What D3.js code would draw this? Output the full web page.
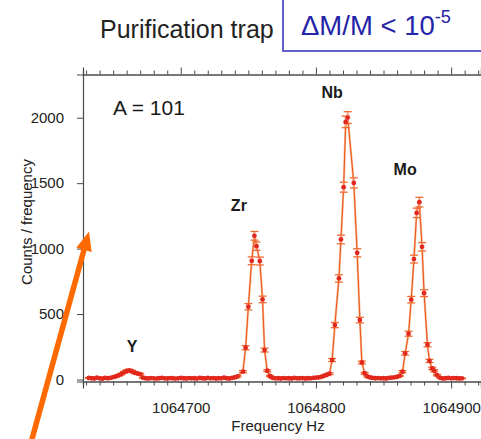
<!DOCTYPE html>
<html>
<head>
<meta charset="utf-8">
<script src="https://cdn.jsdelivr.net/npm/d3@7"></script>
<style>
  html, body { margin: 0; padding: 0; background: #fff; }
  svg { display: block; font-family: "Liberation Sans", Arial, sans-serif; }
</style>
</head>
<body>
<svg id="chart" width="481" height="439"></svg>
<script>
// Time-of-flight resonance scan, A = 101 isobars (Hz, counts per frequency step)
const freqs = [
  1064632, 1064634, 1064636, 1064638, 1064640, 1064642, 1064644, 1064646, 1064648,
  1064650, 1064652, 1064654, 1064656, 1064658, 1064660, 1064662, 1064664, 1064666, 1064668, 1064670, 1064672,
  1064674, 1064676, 1064678, 1064680, 1064682, 1064684, 1064686, 1064688, 1064690, 1064692,
  1064694, 1064696, 1064698, 1064700, 1064702, 1064704, 1064706, 1064708, 1064710, 1064712,
  1064714, 1064716, 1064718, 1064720, 1064722, 1064724, 1064726, 1064728, 1064730, 1064732,
  1064734, 1064736, 1064738, 1064740, 1064742,
  1064746, 1064748, 1064750, 1064752.5, 1064754.5, 1064756, 1064758.5, 1064760.5, 1064762, 1064764, 1064766,
  1064768, 1064770, 1064772, 1064774, 1064776, 1064778, 1064780, 1064782, 1064784, 1064786,
  1064788, 1064790, 1064792, 1064794, 1064796, 1064798, 1064800, 1064802, 1064804, 1064806,
  1064808, 1064810,
  1064812, 1064814, 1064817, 1064818.5, 1064820.5, 1064822, 1064823.5, 1064828, 1064830.5, 1064832.5, 1064834, 1064836,
  1064838, 1064840, 1064842, 1064844, 1064846, 1064848, 1064850, 1064852, 1064854, 1064856, 1064858,
  1064860, 1064862, 1064864, 1064866, 1064868.5, 1064870.5, 1064872.5, 1064874.5, 1064876.5, 1064878.5,
  1064880, 1064882.5, 1064884, 1064886, 1064887.5, 1064889.5, 1064892,
  1064894, 1064896, 1064898, 1064900, 1064902, 1064904, 1064906, 1064908
];
const counts = [
  12, 10, 8, 14, 9, 6, 13, 10, 12,
  18, 24, 32, 42, 55, 66, 70, 62, 52, 46, 42, 14,
  10, 8, 11, 9, 7, 10, 12, 9, 8, 11,
  10, 7, 9, 12, 10, 8, 11, 9, 10, 7,
  12, 10, 8, 13, 9, 11, 8, 10, 9, 14,
  10, 8, 12, 16, 24,
  60, 243, 556, 907, 1098, 1019, 905, 612, 225, 67, 27,
  12, 9, 10, 8, 11, 9, 10, 8, 12, 9,
  10, 11, 8, 10, 9, 12, 14, 16, 20, 28,
  36, 45,
  149, 416, 772, 1070, 1469, 1968, 2001, 1502, 968, 454, 130, 48,
  24, 16, 12, 10, 11, 9, 10, 8, 12, 14, 17,
  20, 28, 60, 200, 350, 610, 920, 1273, 1355, 1014,
  660, 266, 142, 85, 67, 34, 12,
  8, 10, 12, 9, 11, 10, 8, 9
];
const errors = [
  3, 3, 3, 4, 3, 2, 4, 3, 3,
  4, 5, 6, 6, 7, 8, 8, 8, 7, 7, 6, 4,
  3, 3, 3, 3, 3, 3, 3, 3, 3, 3,
  3, 3, 3, 3, 3, 3, 3, 3, 3, 3,
  3, 3, 3, 4, 3, 3, 3, 3, 3, 4,
  3, 3, 3, 4, 5,
  8, 16, 24, 30, 33, 32, 30, 25, 15, 8, 5,
  3, 3, 3, 3, 3, 3, 3, 3, 3, 3,
  3, 3, 3, 3, 3, 3, 4, 4, 4, 5,
  6, 7,
  12, 20, 28, 33, 38, 44, 45, 39, 31, 21, 11, 7,
  5, 4, 3, 3, 3, 3, 3, 3, 3, 4, 4,
  4, 5, 8, 14, 19, 25, 30, 36, 37, 32,
  26, 16, 12, 9, 8, 6, 3,
  3, 3, 3, 3, 3, 3, 3, 3
];

// Peak labels: element and the position of its label in data units
const peakNames = ["Y", "Zr", "Nb", "Mo"];
const peakLabelFreq = [1064664, 1064743, 1064812, 1064866];
const peakLabelCount = [210, 1290, 2150, 1560];

const yTicks = [0, 500, 1000, 1500, 2000];
const xMajorTicks = [1064700, 1064800, 1064900];
const xMinorTicks = [1064630, 1064640, 1064650, 1064660, 1064670, 1064680, 1064690,
  1064710, 1064720, 1064730, 1064740, 1064750, 1064760, 1064770, 1064780, 1064790,
  1064810, 1064820, 1064830, 1064840, 1064850, 1064860, 1064870, 1064880, 1064890,
  1064910, 1064920];

const data = freqs.map((f, i) => ({ f, c: counts[i], e: errors[i] }));

const svg = d3.select("#chart");
const plot = { left: 83, right: 481, top: 74.5, bottom: 381.5 };

const x = d3.scaleLinear().domain([1064627.7, 1064922.1]).range([plot.left, plot.right]);
const y = d3.scaleLinear().domain([-15, 2330]).range([plot.bottom, plot.top]);

const axisColor = "#4a4a4a";
const fmt = d3.format("d");

// Axes
function styleAxis(g) {
  g.select(".domain").attr("stroke", axisColor).attr("stroke-width", 1.2);
  g.selectAll(".tick line").attr("stroke", axisColor).attr("stroke-width", 1);
  g.selectAll(".tick text").attr("fill", "#222").style("font-size", "15px");
}

const bottomAxis = svg.append("g").attr("transform", `translate(0,${plot.bottom})`);
bottomAxis.append("g").call(d3.axisBottom(x).tickValues(xMinorTicks).tickSize(4).tickFormat(""))
  .call(styleAxis);
bottomAxis.append("g").call(d3.axisBottom(x).tickValues(xMajorTicks).tickSize(7).tickPadding(14).tickFormat(fmt))
  .call(styleAxis);

const topAxis = svg.append("g").attr("transform", `translate(0,${plot.top})`);
topAxis.append("g").call(d3.axisTop(x).tickValues(xMinorTicks).tickSize(4).tickFormat(""))
  .call(styleAxis);
topAxis.append("g").call(d3.axisTop(x).tickValues(xMajorTicks).tickSize(7).tickFormat(""))
  .call(styleAxis);

svg.append("g").attr("transform", `translate(${plot.left},0)`)
  .call(d3.axisLeft(y).tickValues(yTicks).tickSize(6).tickPadding(13).tickFormat(fmt))
  .call(styleAxis);

// Axis titles
svg.append("text")
  .attr("x", 278).attr("y", 431)
  .attr("text-anchor", "middle")
  .style("font-size", "15px").attr("fill", "#222")
  .text("Frequency Hz");

svg.append("text")
  .attr("transform", "translate(32,222) rotate(-90)")
  .attr("text-anchor", "middle")
  .style("font-size", "15px").attr("fill", "#222")
  .text("Counts / frequency");

// Connecting line: soft halo under a thin core
const line = d3.line().x(d => x(d.f)).y(d => y(d.c));
const series = svg.append("g");
series.append("path").datum(data)
  .attr("fill", "none").attr("stroke", "#f8b698").attr("stroke-width", 2.2)
  .attr("stroke-linejoin", "round").attr("d", line);
series.append("path").datum(data)
  .attr("fill", "none").attr("stroke", "#ee5512").attr("stroke-width", 1)
  .attr("stroke-linejoin", "round").attr("d", line);

// Error bars
const capW = 4;
const eb = series.append("g").selectAll("g").data(data).join("g");
eb.append("line")
  .attr("x1", d => x(d.f)).attr("x2", d => x(d.f))
  .attr("y1", d => y(d.c - d.e)).attr("y2", d => y(d.c + d.e))
  .attr("stroke", "#f4a080").attr("stroke-width", 2);
eb.append("line")
  .attr("x1", d => x(d.f) - capW).attr("x2", d => x(d.f) + capW)
  .attr("y1", d => y(d.c + d.e)).attr("y2", d => y(d.c + d.e))
  .attr("stroke", "#f06a30").attr("stroke-width", 1.3);
eb.append("line")
  .attr("x1", d => x(d.f) - capW).attr("x2", d => x(d.f) + capW)
  .attr("y1", d => y(d.c - d.e)).attr("y2", d => y(d.c - d.e))
  .attr("stroke", "#f06a30").attr("stroke-width", 1.3);

// Markers
series.append("g").selectAll("circle").data(data).join("circle")
  .attr("cx", d => x(d.f)).attr("cy", d => y(d.c)).attr("r", 2.4)
  .attr("fill", "#e2281e");

// Peak labels
svg.append("g").selectAll("text").data(peakNames).join("text")
  .attr("x", (d, i) => x(peakLabelFreq[i]))
  .attr("y", (d, i) => y(peakLabelCount[i]))
  .attr("text-anchor", "middle")
  .style("font-size", "16px").style("font-weight", "bold").attr("fill", "#1a1a1a")
  .text(d => d);

// Mass number
svg.append("text")
  .attr("x", 113).attr("y", 115)
  .style("font-size", "21px").attr("fill", "#1a1a1a")
  .text("A = 101");

// Heading and resolving-power box
svg.append("text")
  .attr("x", 100).attr("y", 38)
  .style("font-size", "25px").attr("fill", "#222")
  .text("Purification trap");

svg.append("rect")
  .attr("x", 283).attr("y", -5).attr("width", 210).attr("height", 56)
  .attr("fill", "#fff").attr("stroke", "#3a3ac0").attr("stroke-width", 1.6);

const res = svg.append("text")
  .attr("x", 301).attr("y", 35)
  .style("font-size", "27.5px").attr("fill", "#2424a8");
res.append("tspan").text("\u0394M/M < 10");
res.append("tspan").attr("dy", -12).style("font-size", "18px").text("-5");

// Pointer arrow toward the axis
const tip = { x: x.range()[0] + 6, y: y(1000) - 17 };
const tail = { x: 29, y: 450 };
const ang = Math.atan2(tip.y - tail.y, tip.x - tail.x);
const headLen = 19, headHalf = 8;
const baseX = tip.x - headLen * Math.cos(ang), baseY = tip.y - headLen * Math.sin(ang);
const nx = -Math.sin(ang), ny = Math.cos(ang);
svg.append("line")
  .attr("x1", tail.x).attr("y1", tail.y)
  .attr("x2", baseX + 2 * Math.cos(ang)).attr("y2", baseY + 2 * Math.sin(ang))
  .attr("stroke", "#ff6a00").attr("stroke-width", 5.5);
svg.append("path")
  .attr("d", `M${tip.x},${tip.y} L${baseX + headHalf * nx},${baseY + headHalf * ny} L${baseX - headHalf * nx},${baseY - headHalf * ny} Z`)
  .attr("fill", "#ff6a00");
</script>
</body>
</html>
